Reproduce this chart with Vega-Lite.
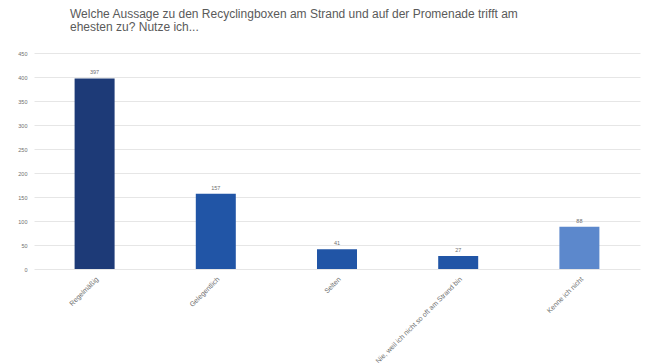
{
  "$schema": "https://vega.github.io/schema/vega-lite/v6.json",
  "width": 606,
  "height": 216,
  "autosize": {"type": "none"},
  "padding": {"left": 34, "top": 53, "right": 9, "bottom": 94},
  "background": "white",
  "config": {"view": {"stroke": null}, "font": "Liberation Sans"},
  "title": {
    "text": ["Welche Aussage zu den Recyclingboxen am Strand und auf der Promenade trifft am", "ehesten zu? Nutze ich..."],
    "anchor": "start",
    "frame": "group",
    "dx": 36,
    "offset": 17,
    "fontSize": 12,
    "fontWeight": "normal",
    "color": "#5a5a5a",
    "lineHeight": 13
  },
  "data": {
    "values": [
      {"antwort": "Regelmäßig", "anzahl": 397, "gruppe": "a"},
      {"antwort": "Gelegentlich", "anzahl": 157, "gruppe": "b"},
      {"antwort": "Selten", "anzahl": 41, "gruppe": "b"},
      {"antwort": "Nie, weil ich nicht so oft am Strand bin", "anzahl": 27, "gruppe": "b"},
      {"antwort": "Kenne ich nicht", "anzahl": 88, "gruppe": "c"}
    ]
  },
  "encoding": {
    "x": {
      "field": "antwort",
      "type": "nominal",
      "sort": null,
      "scale": {"paddingInner": 0.67, "paddingOuter": 0.335},
      "axis": {
        "title": null,
        "labelAngle": -45,
        "labelFontSize": 7,
        "labelColor": "#6f6f6f",
        "labelLimit": 300,
        "ticks": false,
        "domain": false,
        "labelPadding": 6
      }
    },
    "y": {
      "field": "anzahl",
      "type": "quantitative",
      "scale": {"domain": [0, 450]},
      "axis": {
        "title": null,
        "values": [0, 50, 100, 150, 200, 250, 300, 350, 400, 450],
        "labelFontSize": 5.5,
        "labelColor": "#6f6f6f",
        "ticks": false,
        "domain": false,
        "gridColor": "#e6e6e6",
        "labelPadding": 7
      }
    }
  },
  "layer": [
    {
      "mark": {"type": "bar"},
      "encoding": {
        "color": {
          "field": "gruppe",
          "type": "nominal",
          "scale": {"domain": ["a", "b", "c"], "range": ["#1d3a77", "#2155a6", "#5c88cc"]},
          "legend": null
        }
      }
    },
    {
      "mark": {"type": "text", "dy": -6, "fontSize": 5.5, "color": "#6f6f6f"},
      "encoding": {"text": {"field": "anzahl", "type": "quantitative"}}
    }
  ]
}
